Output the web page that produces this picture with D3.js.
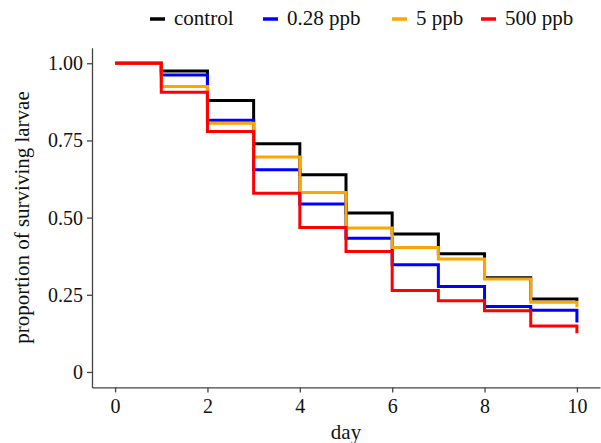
<!DOCTYPE html>
<html>
<head>
<meta charset="utf-8">
<script src="https://cdn.jsdelivr.net/npm/d3@7"></script>
<style>
  body { margin: 0; background: #fff; }
  text { font-family: "Liberation Serif", "Times New Roman", serif; }
</style>
</head>
<body>
<div id="chart"></div>
<script>
// survival proportion at each day (value holds until the next day)
var days = [0, 1, 2, 3, 4, 5, 6, 7, 8, 9, 10];
var control = [1, 0.975, 0.879, 0.739, 0.639, 0.515, 0.447, 0.383, 0.305, 0.236, 0.23];
var ppb028  = [1, 0.962, 0.815, 0.655, 0.544, 0.433, 0.347, 0.277, 0.212, 0.200, 0.16];
var ppb5    = [1, 0.925, 0.806, 0.696, 0.581, 0.466, 0.403, 0.366, 0.301, 0.226, 0.21];
var ppb500  = [1, 0.906, 0.779, 0.579, 0.468, 0.390, 0.264, 0.231, 0.198, 0.149, 0.125];

var seriesNames = ["control", "0.28 ppb", "5 ppb", "500 ppb"];
var seriesColors = ["#000000", "#0000ff", "#ffa500", "#ff0000"];
var seriesValues = [control, ppb028, ppb5, ppb500];

var xTicks = [0, 2, 4, 6, 8, 10];
var yTicks = [0, 0.25, 0.5, 0.75, 1];
var yTickLabels = ["0", "0.25", "0.50", "0.75", "1.00"];

var width = 601, height = 443;
var margin = {top: 48, right: 1, bottom: 56, left: 92};

var svg = d3.select("#chart")
  .append("svg")
    .attr("width", width)
    .attr("height", height);

var x = d3.scaleLinear()
  .domain([-0.5, 10.5])
  .range([margin.left, width - margin.right]);

var y = d3.scaleLinear()
  .domain([-0.05, 1.05])
  .range([height - margin.bottom + 0.4, margin.top - 0.2]);

// axes
var xAxis = svg.append("g")
  .attr("transform", "translate(0," + (height - margin.bottom + 0.4) + ")")
  .call(d3.axisBottom(x).tickValues(xTicks).tickSize(5).tickSizeOuter(0).tickPadding(6));

var yAxis = svg.append("g")
  .attr("transform", "translate(" + margin.left + ",0)")
  .call(d3.axisLeft(y).tickValues(yTicks).tickSize(5).tickSizeOuter(0).tickPadding(4)
    .tickFormat(function (d, i) { return yTickLabels[i]; }));

[xAxis, yAxis].forEach(function (g) {
  g.select(".domain").attr("stroke", "#444").attr("stroke-width", 1.3);
  g.selectAll(".tick line").attr("stroke", "#444").attr("stroke-width", 1.3);
  g.selectAll(".tick text")
    .attr("fill", "#111")
    .style("font-family", "'Liberation Serif', serif")
    .style("font-size", "20px");
});

// step lines
var line = d3.line()
  .curve(d3.curveStepAfter)
  .x(function (d, i) { return x(days[i]); })
  .y(function (d) { return y(d); });

seriesValues.forEach(function (vals, k) {
  svg.append("path")
    .datum(vals)
    .attr("d", line)
    .attr("fill", "none")
    .attr("stroke", seriesColors[k])
    .attr("stroke-width", 3)
    .attr("stroke-linejoin", "miter");
});

// axis titles
svg.append("text")
  .attr("x", x(5))
  .attr("y", 439)
  .attr("text-anchor", "middle")
  .style("font-size", "21px")
  .attr("fill", "#111")
  .text("day");

svg.append("text")
  .attr("transform", "translate(29," + (margin.top + height - margin.bottom) / 2 + ") rotate(-90)")
  .attr("text-anchor", "middle")
  .style("font-size", "21px")
  .attr("fill", "#111")
  .text("proportion of surviving larvae");

// legend
var legendX = [150, 263, 392, 481];
var legend = svg.append("g");
seriesNames.forEach(function (name, k) {
  legend.append("line")
    .attr("x1", legendX[k]).attr("x2", legendX[k] + 15)
    .attr("y1", 19).attr("y2", 19)
    .attr("stroke", seriesColors[k])
    .attr("stroke-width", 3.5);
  legend.append("text")
    .attr("x", legendX[k] + 24)
    .attr("y", 25)
    .style("font-size", "21px")
    .attr("fill", "#111")
    .text(name);
});
</script>
</body>
</html>
